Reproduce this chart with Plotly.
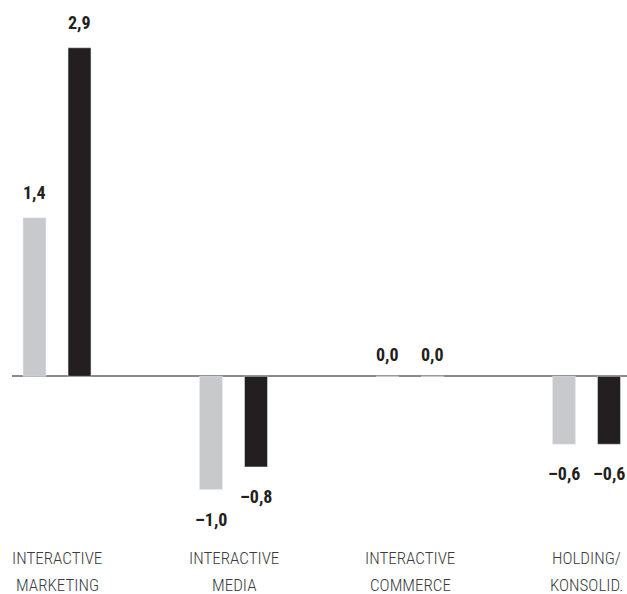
import plotly.graph_objects as go

categories = ["INTERACTIVE MARKETING", "INTERACTIVE MEDIA", "INTERACTIVE COMMERCE", "HOLDING/ KONSOLID."]
label_line1 = ["INTERACTIVE", "INTERACTIVE", "INTERACTIVE", "HOLDING/"]
label_line2 = ["MARKETING", "MEDIA", "COMMERCE", "KONSOLID."]
prev_year = [1.4, -1.0, 0.0, -0.6]
curr_year = [2.9, -0.8, 0.0, -0.6]

GRAY = "#c8c9cb"
BLACK = "#231f20"
FONT = "Roboto Condensed, Liberation Sans Narrow, Arial Narrow, DejaVu Sans Condensed, Noto Sans, sans-serif"

def fmt(v):
    s = f"{abs(v):.1f}".replace(".", ",")
    return ("–" + s) if v < 0 else s

fig = go.Figure()
fig.add_trace(go.Bar(x=categories, y=prev_year, marker_color=GRAY, name="Vorjahr",
                     offsetgroup="a", hoverinfo="skip"))
fig.add_trace(go.Bar(x=categories, y=curr_year, marker_color=BLACK, name="Berichtsjahr",
                     offsetgroup="b", hoverinfo="skip"))

# value labels
offsets = [-0.1275, 0.1275]
for series, dx in zip([prev_year, curr_year], offsets):
    for i, v in enumerate(series):
        pos = v >= 0
        fig.add_annotation(x=i + dx, y=v, xref="x", yref="y", text=fmt(v),
                           showarrow=False, yanchor="bottom" if pos else "top",
                           yshift=(13 if v > 0 else 9) if pos else -17,
                           font=dict(family=FONT, size=18, color=BLACK, weight="bold"))

# category labels
for i, (l1, l2) in enumerate(zip(label_line1, label_line2)):
    for txt, shift in ((l1, -24), (l2, -51)):
        fig.add_annotation(x=i, y=0, xref="x", yref="paper", text=txt, showarrow=False,
                           yanchor="middle", yshift=shift,
                           font=dict(family=FONT, size=17, color="#3c3c3c", weight=300))

fig.update_layout(
    width=627, height=594,
    margin=dict(l=12, r=0, t=0, b=60),
    paper_bgcolor="white", plot_bgcolor="white",
    showlegend=False,
    barmode="group", bargap=0.49, bargroupgap=0.49,
    xaxis=dict(range=[-0.255, 3.2295], showgrid=False, showline=False, zeroline=False,
               showticklabels=False, ticks="", fixedrange=True),
    yaxis=dict(range=[-1.392, 3.3216], showgrid=False, showticklabels=False,
               zeroline=True, zerolinecolor="#8a8a8a", zerolinewidth=2,
               showline=False, fixedrange=True),
)

fig.write_html("out.html")
